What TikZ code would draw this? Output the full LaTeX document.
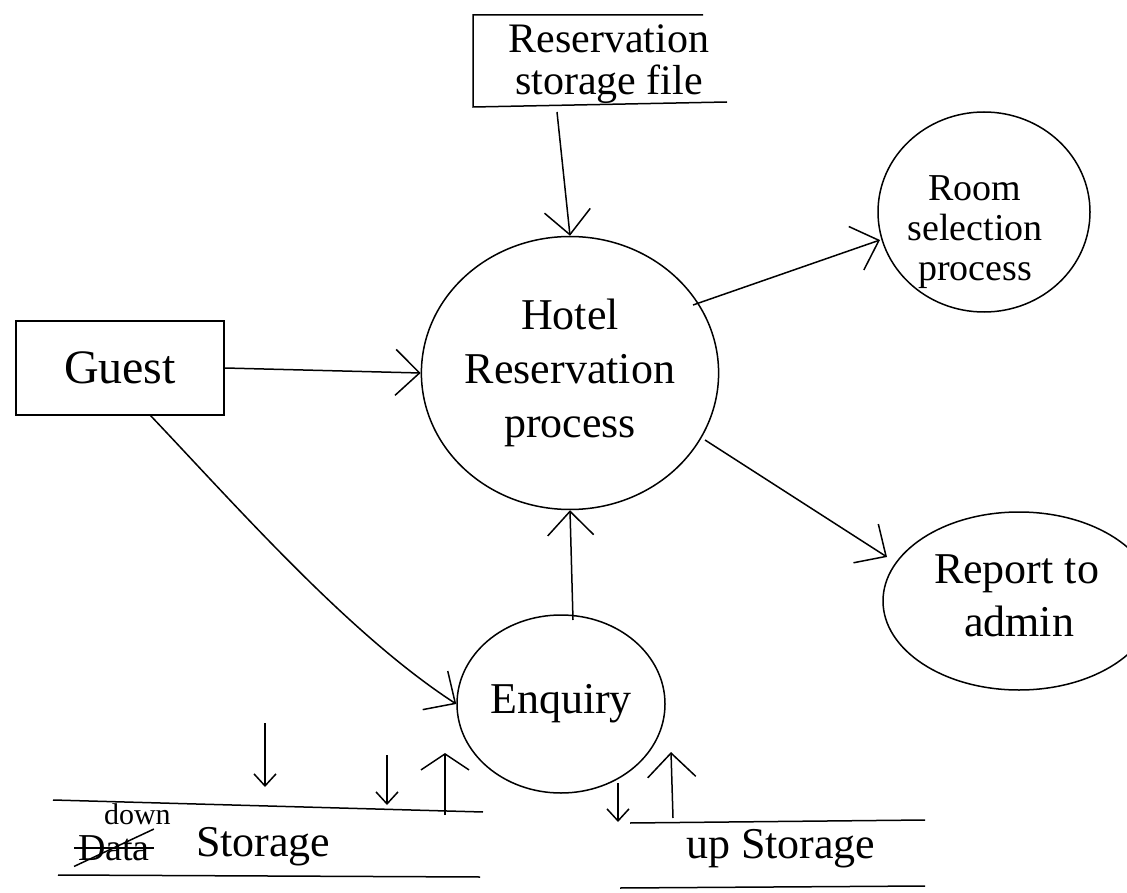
\documentclass[tikz,border=0pt]{standalone}
\usepackage{fontspec}
\setmainfont{Liberation Serif}
\usetikzlibrary{shapes.geometric,arrows.meta}
\begin{document}
\begin{tikzpicture}[x=1pt,y=-1pt,
  line width=1.5pt,
  flow/.style={-{Straight Barb[length=24pt,width=46pt,line width=1.5pt]}},
  smallflow/.style={-{Straight Barb[length=12pt,width=22pt,line width=1.5pt]}},
  proc/.style={draw,ellipse,inner sep=0pt,align=center},
  big/.style={font=\fontsize{44}{54}\selectfont,align=center},
  mid/.style={font=\fontsize{36}{42}\selectfont,align=center}]
\useasboundingbox (0,0) rectangle (1127,893);

% Reservation storage file (open-ended store)
\draw (703,15) -- (473,15) -- (473,107) -- (727,102);
\node[big,font=\fontsize{42}{42}\selectfont] (file) at (609,64) {Reservation\\storage file};
\coordinate (fileout) at (557,112);

% processes
\node[proc,big,minimum width=274pt,minimum height=273pt] (hotel) at (570,373)
  {Hotel\\Reservation\\process};
\node[proc,minimum width=212pt,minimum height=200pt] (room) at (984,212) {};
\node[mid,font=\fontsize{38}{40}\selectfont] (roomtxt) at (975,232) {Room\\selection\\process};
\node[proc,minimum width=272pt,minimum height=178pt] (report) at (1019,601) {};
\node[big,anchor=base west] (rep1) at (930,583) {Report to};
\node[big,anchor=base west] (rep2) at (960,636) {admin};
\node[proc,big,minimum width=208pt,minimum height=178pt] (enq) at (561,704) {Enquiry};

% external entity
\node[draw,minimum width=208pt,minimum height=94pt,big,font=\fontsize{48}{54}\selectfont] (guest) at (120,368) {Guest};

% data stores
\draw (53,800) -- (483,812);
\draw (58,875) -- (480,877);
\node[font=\fontsize{38}{42}\selectfont,anchor=base west] (dataword) at (74,860) {Data};
\draw[line width=2.5pt] (dataword.west) -- (dataword.east);
\draw[line width=1.5pt] ([yshift=-2pt]dataword.south west) -- ([yshift=2pt]dataword.north east);
\node[font=\fontsize{30}{34}\selectfont,anchor=base west] (down) at (100,824) {down};
\node[big,anchor=base west] (store1) at (192,856) {Storage};
\draw (630,823) -- (925,820);
\draw (620,888) -- (925,886);
\node[big,anchor=base west] (up) at (682,858) {up Storage};

% flows
\draw[flow] (fileout) -- (hotel.north);
\draw[flow] (guest.east) -- (hotel.west);
\coordinate (h1) at (693,305);
\coordinate (roomin) at (880,240);
\draw[flow] (h1) -- (roomin);
\coordinate (h2) at (705,440);
\coordinate (repin) at (887,557);
\draw[flow] (h2) -- (repin);
\coordinate (eup) at (573,620);
\draw[flow] (eup) -- (hotel.south);
\coordinate (gdown) at (150,415);
\draw[flow] (gdown) .. controls (240,510) and (350,635) .. (enq.west);

% small store arrows
\coordinate (a1) at (265,723);
\coordinate (a2) at (265,787);
\draw[smallflow] (a1) -- (a2);
\coordinate (b1) at (387,755);
\coordinate (b2) at (387,805);
\draw[smallflow] (b1) -- (b2);
\coordinate (c1) at (445,815);
\coordinate (c2) at (445,753);
\draw[-{Straight Barb[length=16pt,width=48pt,line width=1.5pt]}] (c1) -- (c2);
\coordinate (d1) at (618,783);
\coordinate (d2) at (618,822);
\draw[smallflow] (d1) -- (d2);
\coordinate (e1) at (673,818);
\coordinate (e2) at (671,752);
\draw[-{Straight Barb[length=24pt,width=48pt,line width=1.5pt]}] (e1) -- (e2);
\end{tikzpicture}
\end{document}
